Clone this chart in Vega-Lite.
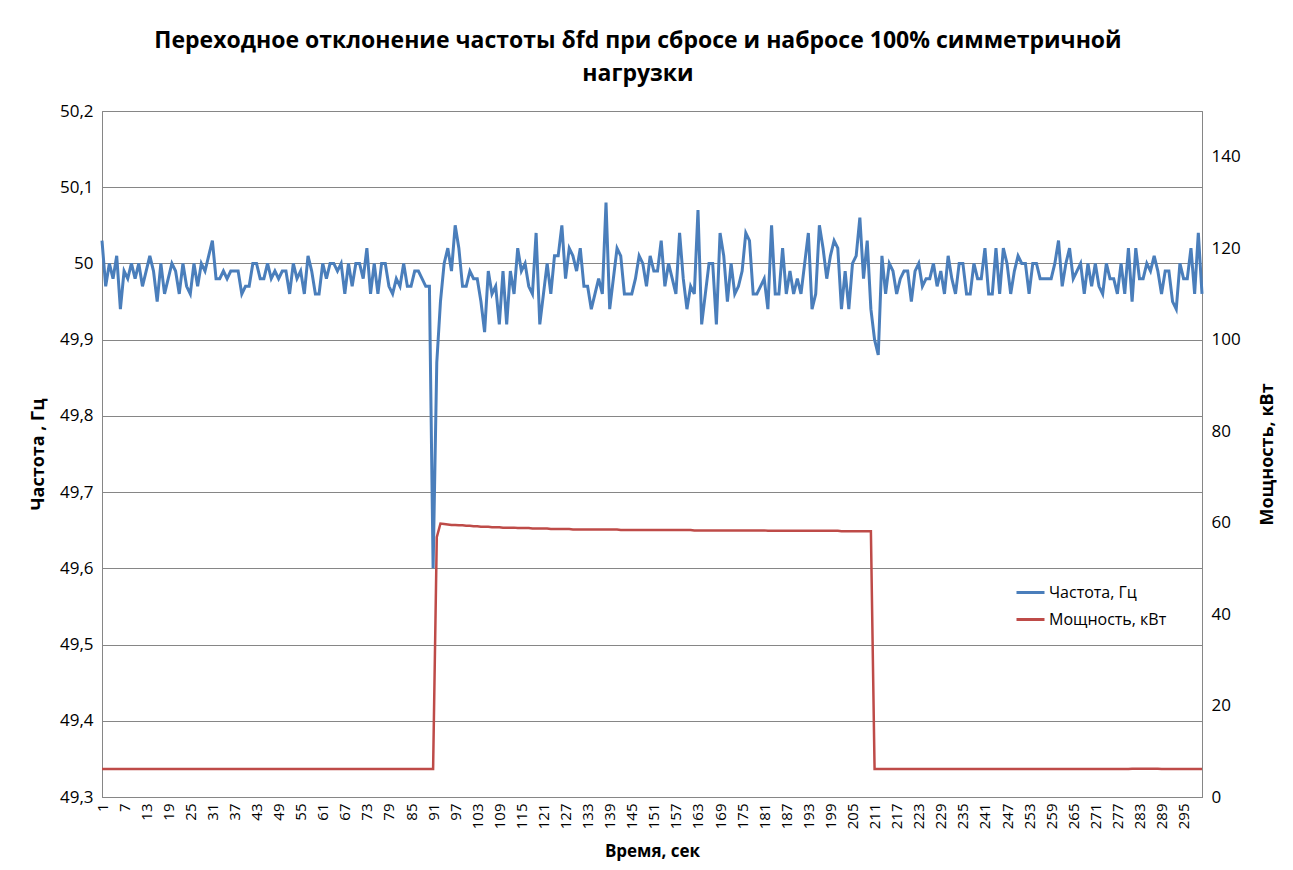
{
  "$schema": "https://vega.github.io/schema/vega-lite/v6.json",
  "width": 1100,
  "height": 686,
  "autosize": {"type": "none"},
  "padding": {"left": 102, "top": 111, "right": 91, "bottom": 73},
  "background": "white",
  "title": {
    "text": ["Переходное отклонение частоты δfd при сбросе и набросе 100% симметричной", "нагрузки"],
    "fontSize": 23, "font": "Open Sans", "fontWeight": "bold", "color": "#000000",
    "lineHeight": 33, "offset": 16, "anchor": "middle", "dx": -14
  },
  "data": {"values": [
    {"t":1,"f":50.03,"p":6.1},{"t":2,"f":49.97,"p":6.1},{"t":3,"f":50.00,"p":6.1},{"t":4,"f":49.98,"p":6.1},{"t":5,"f":50.01,"p":6.1},
    {"t":6,"f":49.94,"p":6.1},{"t":7,"f":49.99,"p":6.1},{"t":8,"f":49.98,"p":6.1},{"t":9,"f":50.00,"p":6.1},{"t":10,"f":49.98,"p":6.1},
    {"t":11,"f":50.00,"p":6.1},{"t":12,"f":49.97,"p":6.1},{"t":13,"f":49.99,"p":6.1},{"t":14,"f":50.01,"p":6.1},{"t":15,"f":49.99,"p":6.1},
    {"t":16,"f":49.95,"p":6.1},{"t":17,"f":50.00,"p":6.1},{"t":18,"f":49.96,"p":6.1},{"t":19,"f":49.98,"p":6.1},{"t":20,"f":50.00,"p":6.1},
    {"t":21,"f":49.99,"p":6.1},{"t":22,"f":49.96,"p":6.1},{"t":23,"f":50.00,"p":6.1},{"t":24,"f":49.97,"p":6.1},{"t":25,"f":49.96,"p":6.1},
    {"t":26,"f":50.00,"p":6.1},{"t":27,"f":49.97,"p":6.1},{"t":28,"f":50.00,"p":6.1},{"t":29,"f":49.99,"p":6.1},{"t":30,"f":50.01,"p":6.1},
    {"t":31,"f":50.03,"p":6.1},{"t":32,"f":49.98,"p":6.1},{"t":33,"f":49.98,"p":6.1},{"t":34,"f":49.99,"p":6.1},{"t":35,"f":49.98,"p":6.1},
    {"t":36,"f":49.99,"p":6.1},{"t":37,"f":49.99,"p":6.1},{"t":38,"f":49.99,"p":6.1},{"t":39,"f":49.96,"p":6.1},{"t":40,"f":49.97,"p":6.1},
    {"t":41,"f":49.97,"p":6.1},{"t":42,"f":50.00,"p":6.1},{"t":43,"f":50.00,"p":6.1},{"t":44,"f":49.98,"p":6.1},{"t":45,"f":49.98,"p":6.1},
    {"t":46,"f":50.00,"p":6.1},{"t":47,"f":49.98,"p":6.1},{"t":48,"f":49.99,"p":6.1},{"t":49,"f":49.98,"p":6.1},{"t":50,"f":49.99,"p":6.1},
    {"t":51,"f":49.99,"p":6.1},{"t":52,"f":49.96,"p":6.1},{"t":53,"f":50.00,"p":6.1},{"t":54,"f":49.98,"p":6.1},{"t":55,"f":49.99,"p":6.1},
    {"t":56,"f":49.96,"p":6.1},{"t":57,"f":50.01,"p":6.1},{"t":58,"f":49.99,"p":6.1},{"t":59,"f":49.96,"p":6.1},{"t":60,"f":49.96,"p":6.1},
    {"t":61,"f":50.00,"p":6.1},{"t":62,"f":49.98,"p":6.1},{"t":63,"f":50.00,"p":6.1},{"t":64,"f":50.00,"p":6.1},{"t":65,"f":49.99,"p":6.1},
    {"t":66,"f":50.00,"p":6.1},{"t":67,"f":49.96,"p":6.1},{"t":68,"f":50.00,"p":6.1},{"t":69,"f":49.97,"p":6.1},{"t":70,"f":50.00,"p":6.1},
    {"t":71,"f":50.00,"p":6.1},{"t":72,"f":49.98,"p":6.1},{"t":73,"f":50.02,"p":6.1},{"t":74,"f":49.96,"p":6.1},{"t":75,"f":50.00,"p":6.1},
    {"t":76,"f":49.96,"p":6.1},{"t":77,"f":50.00,"p":6.1},{"t":78,"f":50.00,"p":6.1},{"t":79,"f":49.97,"p":6.1},{"t":80,"f":49.96,"p":6.1},
    {"t":81,"f":49.98,"p":6.1},{"t":82,"f":49.97,"p":6.1},{"t":83,"f":50.00,"p":6.1},{"t":84,"f":49.97,"p":6.1},{"t":85,"f":49.97,"p":6.1},
    {"t":86,"f":49.99,"p":6.1},{"t":87,"f":49.99,"p":6.1},{"t":88,"f":49.98,"p":6.1},{"t":89,"f":49.97,"p":6.1},{"t":90,"f":49.97,"p":6.1},
    {"t":91,"f":49.60,"p":6.1},{"t":92,"f":49.87,"p":56.8},{"t":93,"f":49.95,"p":59.8},{"t":94,"f":50.00,"p":59.7},{"t":95,"f":50.02,"p":59.6},
    {"t":96,"f":49.99,"p":59.5},{"t":97,"f":50.05,"p":59.5},{"t":98,"f":50.02,"p":59.4},{"t":99,"f":49.97,"p":59.4},{"t":100,"f":49.97,"p":59.3},
    {"t":101,"f":49.99,"p":59.3},{"t":102,"f":49.98,"p":59.2},{"t":103,"f":49.98,"p":59.2},{"t":104,"f":49.95,"p":59.1},{"t":105,"f":49.91,"p":59.1},
    {"t":106,"f":49.99,"p":59.1},{"t":107,"f":49.96,"p":59.0},{"t":108,"f":49.97,"p":59.0},{"t":109,"f":49.92,"p":59.0},{"t":110,"f":49.99,"p":58.9},
    {"t":111,"f":49.92,"p":58.9},{"t":112,"f":49.99,"p":58.9},{"t":113,"f":49.96,"p":58.9},{"t":114,"f":50.02,"p":58.8},{"t":115,"f":49.99,"p":58.8},
    {"t":116,"f":50.00,"p":58.8},{"t":117,"f":49.97,"p":58.8},{"t":118,"f":49.96,"p":58.7},{"t":119,"f":50.04,"p":58.7},{"t":120,"f":49.92,"p":58.7},
    {"t":121,"f":49.96,"p":58.7},{"t":122,"f":50.00,"p":58.7},{"t":123,"f":49.96,"p":58.6},{"t":124,"f":50.01,"p":58.6},{"t":125,"f":50.01,"p":58.6},
    {"t":126,"f":50.05,"p":58.6},{"t":127,"f":49.98,"p":58.6},{"t":128,"f":50.02,"p":58.6},{"t":129,"f":50.01,"p":58.5},{"t":130,"f":49.99,"p":58.5},
    {"t":131,"f":50.02,"p":58.5},{"t":132,"f":49.97,"p":58.5},{"t":133,"f":49.97,"p":58.5},{"t":134,"f":49.94,"p":58.5},{"t":135,"f":49.96,"p":58.5},
    {"t":136,"f":49.98,"p":58.5},{"t":137,"f":49.96,"p":58.5},{"t":138,"f":50.08,"p":58.5},{"t":139,"f":49.94,"p":58.5},{"t":140,"f":49.98,"p":58.5},
    {"t":141,"f":50.02,"p":58.5},{"t":142,"f":50.01,"p":58.4},{"t":143,"f":49.96,"p":58.4},{"t":144,"f":49.96,"p":58.4},{"t":145,"f":49.96,"p":58.4},
    {"t":146,"f":49.98,"p":58.4},{"t":147,"f":50.01,"p":58.4},{"t":148,"f":50.00,"p":58.4},{"t":149,"f":49.97,"p":58.4},{"t":150,"f":50.01,"p":58.4},
    {"t":151,"f":49.99,"p":58.4},{"t":152,"f":49.99,"p":58.4},{"t":153,"f":50.03,"p":58.4},{"t":154,"f":49.97,"p":58.4},{"t":155,"f":50.00,"p":58.4},
    {"t":156,"f":49.98,"p":58.4},{"t":157,"f":49.96,"p":58.4},{"t":158,"f":50.04,"p":58.4},{"t":159,"f":49.98,"p":58.4},{"t":160,"f":49.94,"p":58.4},
    {"t":161,"f":49.97,"p":58.4},{"t":162,"f":49.96,"p":58.3},{"t":163,"f":50.07,"p":58.3},{"t":164,"f":49.92,"p":58.3},{"t":165,"f":49.96,"p":58.3},
    {"t":166,"f":50.00,"p":58.3},{"t":167,"f":50.00,"p":58.3},{"t":168,"f":49.92,"p":58.3},{"t":169,"f":50.04,"p":58.3},{"t":170,"f":50.01,"p":58.3},
    {"t":171,"f":49.95,"p":58.3},{"t":172,"f":50.00,"p":58.3},{"t":173,"f":49.96,"p":58.3},{"t":174,"f":49.97,"p":58.3},{"t":175,"f":49.99,"p":58.3},
    {"t":176,"f":50.04,"p":58.3},{"t":177,"f":50.03,"p":58.3},{"t":178,"f":49.96,"p":58.3},{"t":179,"f":49.96,"p":58.3},{"t":180,"f":49.97,"p":58.3},
    {"t":181,"f":49.98,"p":58.3},{"t":182,"f":49.94,"p":58.2},{"t":183,"f":50.05,"p":58.2},{"t":184,"f":49.96,"p":58.2},{"t":185,"f":49.96,"p":58.2},
    {"t":186,"f":50.02,"p":58.2},{"t":187,"f":49.96,"p":58.2},{"t":188,"f":49.99,"p":58.2},{"t":189,"f":49.96,"p":58.2},{"t":190,"f":49.98,"p":58.2},
    {"t":191,"f":49.96,"p":58.2},{"t":192,"f":50.00,"p":58.2},{"t":193,"f":50.04,"p":58.2},{"t":194,"f":49.94,"p":58.2},{"t":195,"f":49.96,"p":58.2},
    {"t":196,"f":50.05,"p":58.2},{"t":197,"f":50.02,"p":58.2},{"t":198,"f":49.98,"p":58.2},{"t":199,"f":50.01,"p":58.2},{"t":200,"f":50.03,"p":58.2},
    {"t":201,"f":50.02,"p":58.2},{"t":202,"f":49.94,"p":58.1},{"t":203,"f":49.99,"p":58.1},{"t":204,"f":49.94,"p":58.1},{"t":205,"f":50.00,"p":58.1},
    {"t":206,"f":50.01,"p":58.1},{"t":207,"f":50.06,"p":58.1},{"t":208,"f":49.98,"p":58.1},{"t":209,"f":50.03,"p":58.1},{"t":210,"f":49.94,"p":58.1},
    {"t":211,"f":49.90,"p":6.1},{"t":212,"f":49.88,"p":6.1},{"t":213,"f":50.01,"p":6.1},{"t":214,"f":49.96,"p":6.1},{"t":215,"f":50.00,"p":6.1},
    {"t":216,"f":49.99,"p":6.1},{"t":217,"f":49.96,"p":6.1},{"t":218,"f":49.98,"p":6.1},{"t":219,"f":49.99,"p":6.1},{"t":220,"f":49.99,"p":6.1},
    {"t":221,"f":49.95,"p":6.1},{"t":222,"f":49.99,"p":6.1},{"t":223,"f":50.00,"p":6.1},{"t":224,"f":49.97,"p":6.1},{"t":225,"f":49.98,"p":6.1},
    {"t":226,"f":49.98,"p":6.1},{"t":227,"f":50.00,"p":6.1},{"t":228,"f":49.97,"p":6.1},{"t":229,"f":49.99,"p":6.1},{"t":230,"f":49.96,"p":6.1},
    {"t":231,"f":50.01,"p":6.1},{"t":232,"f":49.98,"p":6.1},{"t":233,"f":49.96,"p":6.1},{"t":234,"f":50.00,"p":6.1},{"t":235,"f":50.00,"p":6.1},
    {"t":236,"f":49.96,"p":6.1},{"t":237,"f":49.96,"p":6.1},{"t":238,"f":50.00,"p":6.1},{"t":239,"f":49.98,"p":6.1},{"t":240,"f":49.98,"p":6.1},
    {"t":241,"f":50.02,"p":6.1},{"t":242,"f":49.96,"p":6.1},{"t":243,"f":49.96,"p":6.1},{"t":244,"f":50.02,"p":6.1},{"t":245,"f":49.96,"p":6.1},
    {"t":246,"f":50.02,"p":6.1},{"t":247,"f":50.00,"p":6.1},{"t":248,"f":49.96,"p":6.1},{"t":249,"f":49.99,"p":6.1},{"t":250,"f":50.01,"p":6.1},
    {"t":251,"f":50.00,"p":6.1},{"t":252,"f":50.00,"p":6.1},{"t":253,"f":49.96,"p":6.1},{"t":254,"f":50.00,"p":6.1},{"t":255,"f":50.00,"p":6.1},
    {"t":256,"f":49.98,"p":6.1},{"t":257,"f":49.98,"p":6.1},{"t":258,"f":49.98,"p":6.1},{"t":259,"f":49.98,"p":6.1},{"t":260,"f":50.00,"p":6.1},
    {"t":261,"f":50.03,"p":6.1},{"t":262,"f":49.97,"p":6.1},{"t":263,"f":50.00,"p":6.1},{"t":264,"f":50.02,"p":6.1},{"t":265,"f":49.98,"p":6.1},
    {"t":266,"f":49.99,"p":6.1},{"t":267,"f":50.00,"p":6.1},{"t":268,"f":49.96,"p":6.1},{"t":269,"f":50.00,"p":6.1},{"t":270,"f":49.97,"p":6.1},
    {"t":271,"f":50.00,"p":6.1},{"t":272,"f":49.97,"p":6.1},{"t":273,"f":49.96,"p":6.1},{"t":274,"f":50.00,"p":6.1},{"t":275,"f":49.98,"p":6.1},
    {"t":276,"f":49.98,"p":6.1},{"t":277,"f":49.96,"p":6.1},{"t":278,"f":50.00,"p":6.1},{"t":279,"f":49.96,"p":6.1},{"t":280,"f":50.02,"p":6.1},
    {"t":281,"f":49.95,"p":6.2},{"t":282,"f":50.02,"p":6.2},{"t":283,"f":49.98,"p":6.2},{"t":284,"f":49.98,"p":6.2},{"t":285,"f":50.00,"p":6.2},
    {"t":286,"f":49.99,"p":6.2},{"t":287,"f":50.01,"p":6.2},{"t":288,"f":49.99,"p":6.2},{"t":289,"f":49.96,"p":6.1},{"t":290,"f":49.99,"p":6.1},
    {"t":291,"f":49.99,"p":6.1},{"t":292,"f":49.95,"p":6.1},{"t":293,"f":49.94,"p":6.1},{"t":294,"f":50.00,"p":6.1},{"t":295,"f":49.98,"p":6.1},
    {"t":296,"f":49.98,"p":6.1},{"t":297,"f":50.02,"p":6.1},{"t":298,"f":49.96,"p":6.1},{"t":299,"f":50.04,"p":6.1},{"t":300,"f":49.96,"p":6.1}
  ]},
  "encoding": {
    "x": {
      "field": "t", "type": "quantitative",
      "scale": {"domain": [1, 300], "nice": false, "zero": false},
      "axis": {
        "values": [1,7,13,19,25,31,37,43,49,55,61,67,73,79,85,91,97,103,109,115,121,127,133,139,145,151,157,163,169,175,181,187,193,199,205,211,217,223,229,235,241,247,253,259,265,271,277,283,289,295],
        "labelAngle": -90, "labelFontSize": 15, "labelPadding": 6, "ticks": false, "grid": false,
        "title": "Время, сек", "titleFontSize": 17, "titlePadding": 15, "labelFlush": false, "labelOverlap": false
      }
    }
  },
  "layer": [
    {
      "mark": {"type": "line", "strokeWidth": 3},
      "encoding": {
        "y": {
          "field": "f", "type": "quantitative",
          "scale": {"domain": [49.3, 50.2], "nice": false, "zero": false},
          "axis": {
            "values": [49.3,49.4,49.5,49.6,49.7,49.8,49.9,50.0,50.1,50.2],
            "labelExpr": "abs(datum.value-50)<0.001 ? '50' : replace(format(datum.value, '.1f'), '.', ',')",
            "labelFontSize": 17, "labelPadding": 9, "ticks": false, "grid": true,
            "title": "Частота , Гц", "titleFontSize": 18, "titlePadding": 12
          }
        },
        "color": {
          "datum": "Частота, Гц", "type": "nominal",
          "scale": {"domain": ["Частота, Гц", "Мощность, кВт"], "range": ["#4A7EBB", "#BE4B48"]},
          "legend": {
            "orient": "none", "legendX": 913, "legendY": 466, "title": null,
            "symbolType": "stroke", "symbolSize": 784, "symbolStrokeWidth": 3,
            "labelFontSize": 16, "labelOffset": 3, "rowPadding": 3, "padding": 0
          }
        }
      }
    },
    {
      "mark": {"type": "line", "strokeWidth": 2.5},
      "encoding": {
        "y": {
          "field": "p", "type": "quantitative",
          "scale": {"domain": [0, 150], "nice": false, "zero": true},
          "axis": {
            "orient": "right",
            "values": [0,20,40,60,80,100,120,140],
            "labelFontSize": 17, "labelPadding": 9, "ticks": false, "grid": false,
            "title": "Мощность, кВт", "titleFontSize": 18, "titlePadding": 36, "titleAngle": 270
          }
        },
        "color": {"datum": "Мощность, кВт", "type": "nominal"}
      }
    }
  ],
  "resolve": {"scale": {"y": "independent"}},
  "config": {
    "font": "Open Sans",
    "view": {"stroke": "#868686", "strokeWidth": 1},
    "axis": {
      "domainColor": "#868686", "gridColor": "#868686", "gridWidth": 1, "gridOpacity": 1,
      "labelColor": "#000000", "titleColor": "#000000", "titleFontWeight": "bold",
      "labelFont": "Open Sans", "titleFont": "Open Sans"
    },
    "legend": {"labelColor": "#000000", "labelFont": "Open Sans"}
  }
}
